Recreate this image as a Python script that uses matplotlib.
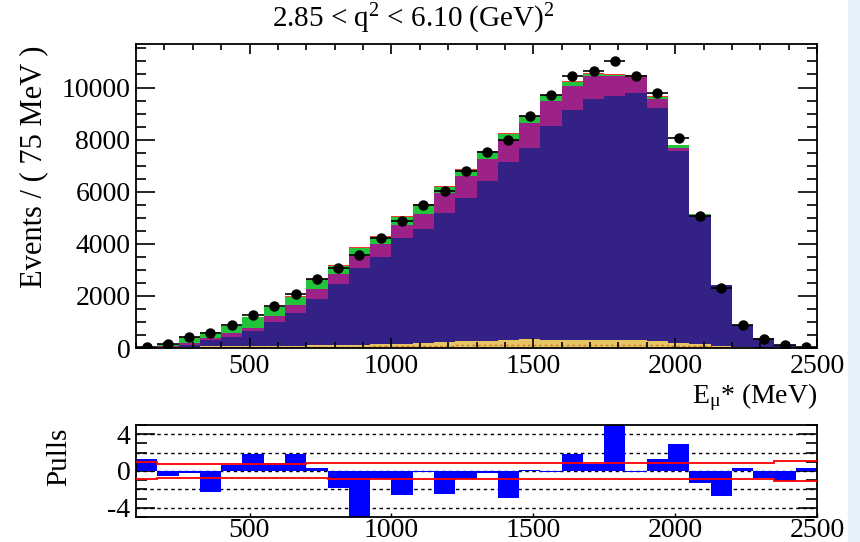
import numpy as np
import matplotlib
matplotlib.use("Agg")
from matplotlib import pyplot as plt
from matplotlib.ticker import MultipleLocator, FixedLocator
from matplotlib.patches import Rectangle

plt.rcParams['font.family'] = ['Liberation Serif', 'DejaVu Serif']
plt.rcParams['mathtext.fontset'] = 'custom'
plt.rcParams['mathtext.rm'] = 'Liberation Serif'
plt.rcParams['mathtext.it'] = 'Liberation Serif:italic'
plt.rcParams['axes.unicode_minus'] = False

# 75 MeV bins from 100 to 2500 MeV
edges = np.arange(100, 2501, 75)
centers = 0.5 * (edges[1:] + edges[:-1])

# stacked components (events per bin), bottom to top
yellow = [8, 25, 45, 60, 70, 80, 90, 90, 100, 110, 130, 150, 170, 190, 220, 250,
          260, 290, 330, 320, 310, 300, 300, 290, 270, 200, 150, 60, 20, 10, 5, 2]
blue = [6, 30, 65, 240, 370, 570, 910, 1270, 1800, 2361, 2943, 3350, 4038, 4366, 4954, 5526,
        6134, 6837, 7353, 8197, 8825, 9248, 9376, 9517, 8958, 7352, 4930, 2355, 855, 351, 122, 44]
magenta = [4, 40, 100, 100, 130, 130, 230, 300, 350, 359, 452, 500, 514, 594, 772, 811,
           865, 850, 937, 963, 927, 900, 749, 613, 320, 131, 20, 5, 4, 1, 1, 1]
green = [4, 50, 190, 200, 270, 400, 325, 295, 355, 310, 305, 265, 308, 325, 244, 253,
         251, 223, 240, 210, 158, 62, 65, 35, 102, 107, 35, 8, 4, 2, 1, 1]
red = [2, 5, 20, 20, 20, 20, 25, 38, 35, 38, 31, 35, 39, 35, 38, 40,
       42, 36, 40, 40, 35, 31, 24, 20, 26, 21, 12, 4, 3, 1, 1, 0]
# small component drawn as a dashed line inside the yellow band
orange = [3, 10, 18, 24, 28, 32, 36, 36, 40, 44, 52, 60, 68, 76, 88, 100,
          104, 116, 130, 128, 124, 120, 120, 116, 108, 80, 60, 24, 8, 4, 2, 1]

data = [30, 143, 416, 565, 878, 1266, 1614, 2078, 2655, 3075, 3552, 4240, 4885, 5500, 6035, 6810,
        7530, 7978, 8915, 9720, 10437, 10618, 11027, 10460, 9800, 8070, 5053, 2300, 895, 350, 118, 50]

pulls = [1.3, -0.57, -0.2, -2.3, 0.6, 1.9, 0.85, 1.9, 0.3, -1.9, -5.3, -0.9, -2.6, -0.15, -2.5, -0.85,
         -0.25, -2.9, 0.15, -0.1, 1.8, 0.8, 5.2, -0.15, 1.3, 2.9, -1.3, -2.7, 0.3, -0.8, -1.05, 0.3]
band_hi = [0.96, 0.72, 0.72, 0.72, 0.72, 0.72, 0.72, 0.72, 0.88, 0.88, 0.88, 0.88, 0.88, 0.88, 0.88, 0.88,
           0.88, 0.88, 0.88, 0.88, 0.88, 0.88, 0.88, 0.88, 0.88, 0.88, 0.88, 0.88, 0.88, 0.88, 1.05, 1.05]
band_lo = [-0.92, -0.72, -0.72, -0.72, -0.72, -0.72, -0.72, -0.72, -0.72, -0.9, -0.9, -0.9, -0.9, -0.9, -0.9, -0.9,
           -0.9, -0.9, -0.9, -0.9, -0.9, -0.9, -0.9, -0.9, -0.9, -0.9, -0.9, -0.9, -0.9, -0.9, -1.07, -1.07]

components = [(yellow, '#e6c564'), (blue, '#332186'), (magenta, '#9c2287'),
              (green, '#22c43c'), (red, '#f03a2a')]

fig = plt.figure(figsize=(8.6, 5.42), dpi=100)
fig.patches.append(Rectangle((848 / 860, 0), 12 / 860, 1, transform=fig.transFigure,
                             color='#e6f1f7', zorder=-1))

ax = fig.add_axes([136 / 860, 1 - 348 / 542, 681 / 860, 304 / 542])
bottom = np.zeros(len(centers))
for vals, col in components:
    top = bottom + np.array(vals)
    ax.stairs(top, edges, baseline=bottom, fill=True, color=col, lw=0)
    bottom = top
ax.stairs(np.array(orange), edges, baseline=None, color='#d07a30', lw=1.0, ls=(0, (2, 2)))

ax.errorbar(centers, data, xerr=37.5, yerr=np.sqrt(data), fmt='o', color='k',
            ms=6.5, lw=1.2, capsize=0, zorder=5)

ax.set_xlim(100, 2500)
ax.set_ylim(0, 11670)
ax.xaxis.set_major_locator(MultipleLocator(500))
ax.xaxis.set_minor_locator(MultipleLocator(100))
ax.yaxis.set_major_locator(MultipleLocator(2000))
ax.yaxis.set_minor_locator(MultipleLocator(500))
ax.tick_params(which='both', direction='in', top=True, right=True, labelsize=20, pad=4)
ax.tick_params(axis='y', which='major', length=14, width=1.2)
ax.tick_params(axis='y', which='minor', length=7, width=1.2)
ax.tick_params(axis='x', which='major', length=7, width=1.2)
ax.tick_params(axis='x', which='minor', length=4, width=1.2)
for s in ax.spines.values():
    s.set_linewidth(1.3)
ax.set_ylabel('Events / ( 75 MeV )', fontsize=22)
ax.yaxis.set_label_coords(-0.129, 0.595)
ax.set_xlabel(r'E$_{\mathregular{μ}}$* (MeV)', fontsize=20, loc='right', labelpad=2)
fig.text(413 / 860, 1 - 19 / 542, r'2.85 < q$^{\mathregular{2}}$ < 6.10 (GeV)$^{\mathregular{2}}$',
         fontsize=21, ha='center', va='center')

# pull panel
axp = fig.add_axes([136 / 860, 1 - 517 / 542, 681 / 860, 92 / 542])
for yv in [-4, -2, 0, 2, 4]:
    axp.axhline(yv, color='k', lw=1.0, ls=(0, (2.5, 2.5)), zorder=1)
axp.stairs(np.array(pulls), edges, baseline=0, fill=True, color='#0000ff', lw=0, zorder=2)
axp.stairs(np.array(band_hi), edges, baseline=None, color='#ff0000', lw=1.3, zorder=3)
axp.stairs(np.array(band_lo), edges, baseline=None, color='#ff0000', lw=1.3, zorder=3)
axp.set_xlim(100, 2500)
axp.set_ylim(-5, 5)
axp.xaxis.set_major_locator(MultipleLocator(500))
axp.yaxis.set_major_locator(FixedLocator([-4, 0, 4]))
axp.yaxis.set_minor_locator(MultipleLocator(1))
axp.tick_params(which='both', direction='in', right=True, labelsize=20, pad=4)
axp.tick_params(axis='x', pad=1)
axp.tick_params(axis='y', which='major', length=14, width=1.2)
axp.tick_params(axis='y', which='minor', length=8, width=1.2)
axp.tick_params(axis='x', which='major', length=3, width=1.0)
for s in axp.spines.values():
    s.set_linewidth(1.3)
axp.set_ylabel('Pulls', fontsize=21)
axp.yaxis.set_label_coords(-0.094, 0.65)

fig.savefig('out.png', dpi=100)
